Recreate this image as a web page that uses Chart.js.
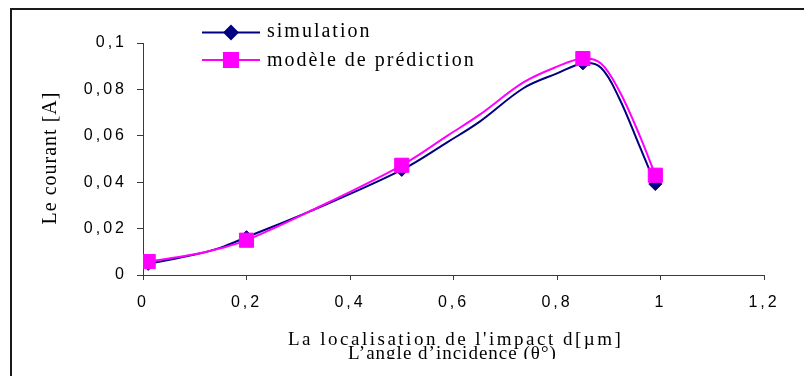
<!DOCTYPE html>
<html>
<head>
<meta charset="utf-8">
<script src="https://cdn.jsdelivr.net/npm/chart.js@4/dist/chart.umd.min.js"></script>
<style>
  html, body { margin: 0; padding: 0; background: #fff; }
</style>
</head>
<body>
<canvas id="courantChart" width="804" height="376"></canvas>
<script>
// Curve points
const curveX     = [0.01, 0.1, 0.15, 0.2, 0.32, 0.5, 0.59, 0.65, 0.735, 0.8, 0.85, 0.885, 0.92, 0.96, 0.99];
const simulation = [0.0048, 0.0088, 0.0118, 0.0163, 0.0272, 0.0453, 0.0575, 0.0660, 0.0805, 0.0869, 0.0912, 0.0893, 0.0763, 0.0553, 0.0392];
const prediction = [0.0058, 0.0089, 0.0115, 0.0150, 0.0272, 0.0473, 0.0603, 0.0690, 0.0830, 0.0898, 0.0933, 0.0912, 0.0795, 0.0600, 0.0430];

// Points that carry a marker
const markX     = [0.01, 0.2, 0.5, 0.85, 0.99];
const simMarks  = [0.0048, 0.0163, 0.0453, 0.0912, 0.0392];
const predMarks = [0.0058, 0.0150, 0.0473, 0.0933, 0.0430];

const seriesNames = ['simulation', 'modèle de prédiction'];
const xTickLabels = ['0', '0,2', '0,4', '0,6', '0,8', '1', '1,2'];
const yTickLabels = ['0', '0,02', '0,04', '0,06', '0,08', '0,1'];
const yTitle = 'Le courant [A]';
const xTitle = "La localisation de l'impact d[µm]";
const xTitle2 = 'L’angle d’incidence (θ°)';

const NAVY = '#000080';
const PINK = '#ff00ff';
const AXIS = '#3a3a3a';

const pts = (xs, ys) => xs.map((x, i) => ({ x: x, y: ys[i] }));

// frame, axis titles and the legend
const decor = {
    id: 'decor',
    beforeDraw(chart) {
        const c = chart.ctx;
        c.save();
        c.fillStyle = '#fff';
        c.fillRect(0, 0, chart.width, chart.height);
        c.strokeStyle = '#1a1a1a';
        c.lineWidth = 2;
        c.strokeRect(11, 9, 1000, 1000);
        c.restore();
        c.letterSpacing = '3px'; // tick labels are spread out
    },
    afterDraw(chart) {
        const c = chart.ctx;
        c.save();
        c.fillStyle = '#000';

        // y title
        c.save();
        c.letterSpacing = '1px';
        c.font = '20px "Liberation Serif", "Times New Roman", serif';
        c.translate(56, 158);
        c.rotate(-Math.PI / 2);
        c.textAlign = 'center';
        c.fillText(yTitle, 0, 0);
        c.restore();

        // x titles, the second one cut at the bottom
        c.save();
        c.beginPath();
        c.rect(0, 0, chart.width, 359);
        c.clip();
        c.font = '19px "Liberation Serif", "Times New Roman", serif';
        c.textAlign = 'left';
        c.letterSpacing = '2.5px';
        c.fillText(xTitle, 288, 345);
        c.letterSpacing = '1px';
        c.fillText(xTitle2, 348, 358.5);
        c.restore();

        // legend
        const rows = [
            { label: seriesNames[0], color: NAVY, style: 'rectRot', r: 6.5, y: 32.5, base: 37 },
            { label: seriesNames[1], color: PINK, style: 'rect', r: 10, y: 60, base: 65.5 }
        ];
        c.font = '20px "Liberation Serif", "Times New Roman", serif';
        c.letterSpacing = '2px';
        rows.forEach(row => {
            c.strokeStyle = row.color;
            c.fillStyle = row.color;
            c.lineWidth = 2;
            c.beginPath();
            c.moveTo(202, row.y);
            c.lineTo(260, row.y);
            c.stroke();
            Chart.helpers.drawPoint(c, { pointStyle: row.style, radius: row.r, borderWidth: 1, rotation: 0 }, 231, row.y);
            c.fillStyle = '#000';
            c.fillText(row.label, 267, row.base);
        });
        c.restore();
        c.letterSpacing = '0px';
    }
};

const ctx = document.getElementById('courantChart').getContext('2d');
const courantChart = new Chart(ctx, {
    type: 'scatter',
    data: {
        datasets: [
            {
                label: seriesNames[1] + ' points',
                data: pts(markX, predMarks),
                pointStyle: 'rect',
                pointRadius: 10,
                pointBackgroundColor: PINK,
                pointBorderColor: PINK,
                pointBorderWidth: 1,
                order: 0
            },
            {
                label: seriesNames[0] + ' points',
                data: pts(markX, simMarks),
                pointStyle: 'rectRot',
                pointRadius: 6.5,
                pointBackgroundColor: NAVY,
                pointBorderColor: NAVY,
                pointBorderWidth: 1,
                order: 1
            },
            {
                label: seriesNames[1],
                data: pts(curveX, prediction),
                showLine: true,
                borderColor: PINK,
                borderWidth: 2,
                pointRadius: 0,
                tension: 0.35,
                order: 2
            },
            {
                label: seriesNames[0],
                data: pts(curveX, simulation),
                showLine: true,
                borderColor: NAVY,
                borderWidth: 2,
                pointRadius: 0,
                tension: 0.35,
                order: 3
            }
        ]
    },
    options: {
        responsive: false,
        animation: false,
        layout: { padding: { top: 43, right: 40, left: 0, bottom: 0 } },
        plugins: {
            legend: { display: false },
            tooltip: { enabled: false }
        },
        scales: {
            x: {
                type: 'linear',
                min: 0,
                max: 1.2,
                ticks: {
                    stepSize: 0.2,
                    padding: 13,
                    color: '#000',
                    font: { family: '"Liberation Sans", Arial, sans-serif', size: 16 },
                    callback: (v, i) => xTickLabels[i]
                },
                grid: { drawOnChartArea: false, drawTicks: true, tickLength: 5, color: AXIS, tickWidth: 1 },
                border: { color: AXIS, width: 1 },
                afterFit: s => { s.height = 101; }
            },
            y: {
                type: 'linear',
                min: 0,
                max: 0.1,
                ticks: {
                    stepSize: 0.02,
                    padding: 10,
                    color: '#000',
                    font: { family: '"Liberation Sans", Arial, sans-serif', size: 16 },
                    callback: (v, i) => yTickLabels[i]
                },
                grid: { drawOnChartArea: false, drawTicks: true, tickLength: 6, color: AXIS, tickWidth: 1 },
                border: { color: AXIS, width: 1 },
                afterFit: s => { s.width = 143; }
            }
        }
    },
    plugins: [decor]
});
</script>
</body>
</html>
